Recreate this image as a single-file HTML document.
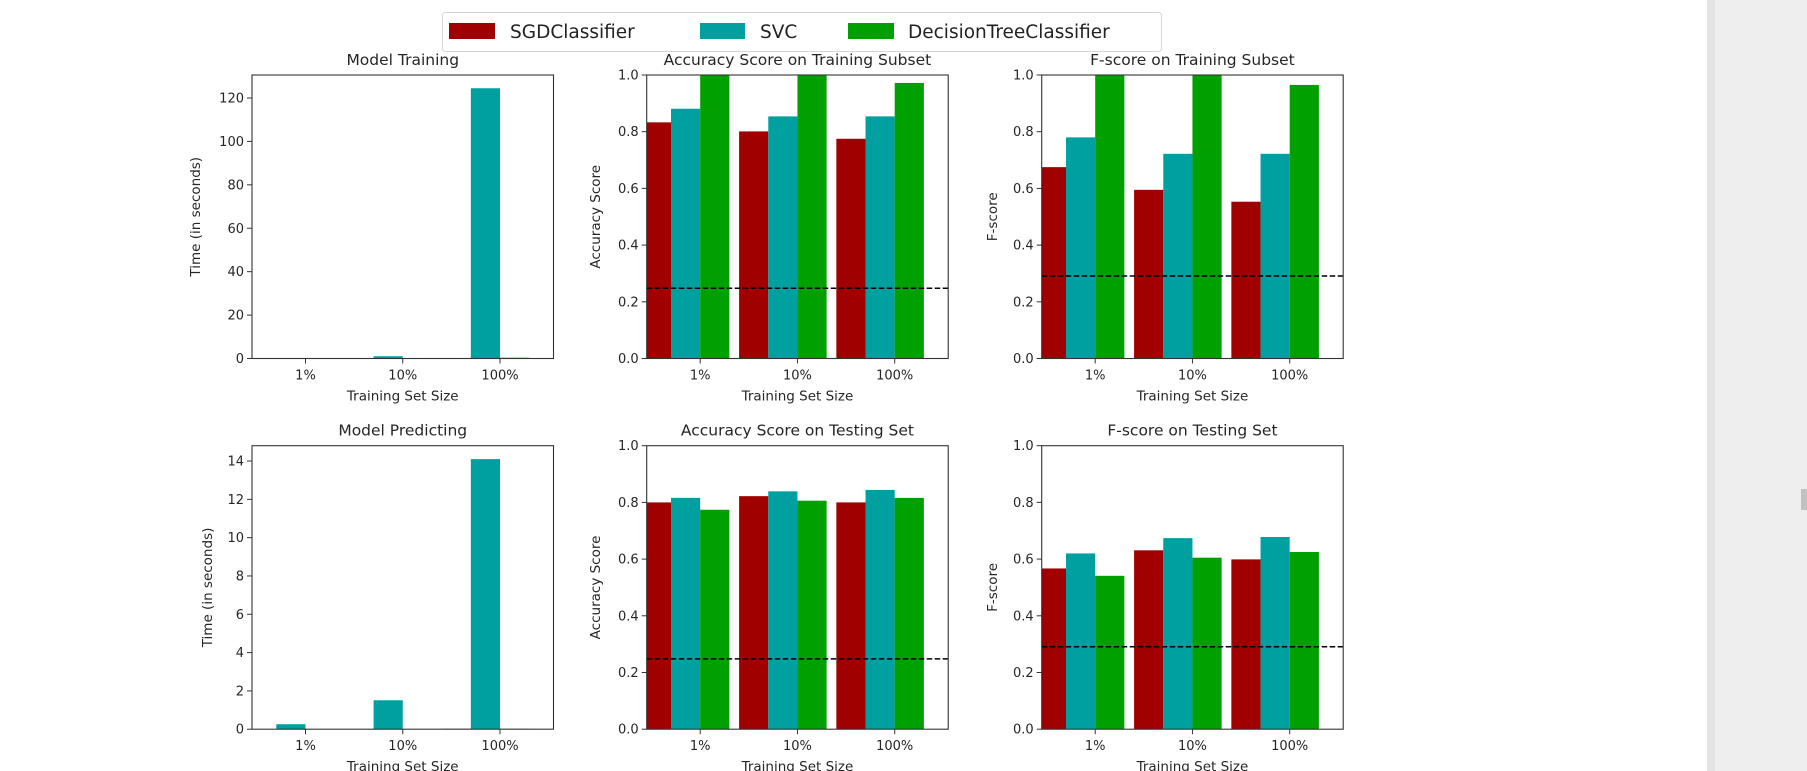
<!DOCTYPE html>
<html><head><meta charset="utf-8">
<style>
html,body{margin:0;padding:0;background:#fff;width:1807px;height:771px;overflow:hidden;}
svg{display:block;font-family:"DejaVu Sans","Liberation Sans",sans-serif;}
</style></head>
<body>
<svg id="chart" width="1807" height="771" viewBox="0 0 1807 771" xmlns="http://www.w3.org/2000/svg">
  <rect x="1707" y="0" width="100" height="771" fill="#eeeeee"/>
  <rect x="1707" y="0" width="8" height="771" fill="#e4e4e4"/>
  <rect x="1801" y="489" width="6" height="21" fill="#c1c1c1"/>
  <g id="legend">
    <rect x="442.5" y="12.5" width="719" height="39" rx="3" fill="#fff" stroke="#d6d6d6"/>
    <g>
      <rect x="449" y="23" width="46" height="16" fill="#A00000"/>
      <text x="510" y="38" font-size="18.5" fill="#222">SGDClassifier</text>
    </g>
    <g>
      <rect x="700" y="23" width="45" height="16" fill="#00A0A0"/>
      <text x="760" y="38" font-size="18.5" fill="#222">SVC</text>
    </g>
    <g>
      <rect x="848" y="23" width="46" height="16" fill="#00A000"/>
      <text x="908" y="38" font-size="18.5" fill="#222">DecisionTreeClassifier</text>
    </g>
  </g>
</svg>
<script>
const categories = ["1%", "10%", "100%"];
const seriesNames = ["SGDClassifier", "SVC", "DecisionTreeClassifier"];
const seriesColors = ["#A00000", "#00A0A0", "#00A000"];
const trainTimeSGD = [0.005, 0.02, 0.15];
const trainTimeSVC = [0.02, 1.05, 124.5];
const trainTimeDTC = [0.003, 0.03, 0.35];
const accTrainSGD = [0.833, 0.801, 0.775];
const accTrainSVC = [0.881, 0.854, 0.854];
const accTrainDTC = [1.0, 1.0, 0.972];
const fTrainSGD = [0.675, 0.595, 0.553];
const fTrainSVC = [0.780, 0.722, 0.722];
const fTrainDTC = [1.0, 1.0, 0.965];
const predTimeSGD = [0.003, 0.005, 0.02];
const predTimeSVC = [0.26, 1.51, 14.1];
const predTimeDTC = [0.002, 0.004, 0.02];
const accTestSGD = [0.800, 0.822, 0.800];
const accTestSVC = [0.816, 0.839, 0.844];
const accTestDTC = [0.774, 0.806, 0.816];
const fTestSGD = [0.567, 0.631, 0.599];
const fTestSVC = [0.620, 0.674, 0.678];
const fTestDTC = [0.541, 0.605, 0.625];
const accBaseline = [0.248];
const fBaseline = [0.291];
const timeTrainTicks = [0, 20, 40, 60, 80, 100, 120];
const timePredTicks = [0, 2, 4, 6, 8, 10, 12, 14];
const scoreTicks = [0.0, 0.2, 0.4, 0.6, 0.8, 1.0];
const scoreTickLabels = ["0.0", "0.2", "0.4", "0.6", "0.8", "1.0"];

const NS = "http://www.w3.org/2000/svg";
const svg = document.getElementById("chart");
function mk(tag, attrs, parent){const e=document.createElementNS(NS,tag);for(const k in attrs)e.setAttribute(k,attrs[k]);(parent||svg).appendChild(e);return e;}

const panels = [
  {name:"model-training", title:"Model Training", ylabel:"Time (in seconds)", x:252, y:75, ymax:130.6, ticks:timeTrainTicks, tl:timeTrainTicks.map(String), s:[trainTimeSGD,trainTimeSVC,trainTimeDTC], base:null, ylx:195},
  {name:"accuracy-training", title:"Accuracy Score on Training Subset", ylabel:"Accuracy Score", x:646.7, y:75, ymax:1, ticks:scoreTicks, tl:scoreTickLabels, s:[accTrainSGD,accTrainSVC,accTrainDTC], base:accBaseline[0], ylx:595},
  {name:"fscore-training", title:"F-score on Training Subset", ylabel:"F-score", x:1041.7, y:75, ymax:1, ticks:scoreTicks, tl:scoreTickLabels, s:[fTrainSGD,fTrainSVC,fTrainDTC], base:fBaseline[0], ylx:992},
  {name:"model-predicting", title:"Model Predicting", ylabel:"Time (in seconds)", x:252, y:445.7, ymax:14.8, ticks:timePredTicks, tl:timePredTicks.map(String), s:[predTimeSGD,predTimeSVC,predTimeDTC], base:null, ylx:207},
  {name:"accuracy-testing", title:"Accuracy Score on Testing Set", ylabel:"Accuracy Score", x:646.7, y:445.7, ymax:1, ticks:scoreTicks, tl:scoreTickLabels, s:[accTestSGD,accTestSVC,accTestDTC], base:accBaseline[0], ylx:595},
  {name:"fscore-testing", title:"F-score on Testing Set", ylabel:"F-score", x:1041.7, y:445.7, ymax:1, ticks:scoreTicks, tl:scoreTickLabels, s:[fTestSGD,fTestSVC,fTestDTC], base:fBaseline[0], ylx:992}
];
const W = 301.5, H = 283.5, XMIN = -0.1, XMAX = 3.0, BW = 0.3;
const seriesKeys = ["sgd","svc","dtc"];

panels.forEach(p => {
  const g = mk("g", {});
  
  
  const xs = v => p.x + (v - XMIN) / (XMAX - XMIN) * W;
  const ys = v => p.y + H - v / p.ymax * H;
  const clipId = "clip-" + p.name;
  const cp = mk("clipPath", {id: clipId}, g);
  mk("rect", {x:p.x, y:p.y, width:W, height:H}, cp);
  const bars = mk("g", {"clip-path":"url(#"+clipId+")"}, g);
  
  
  p.s.forEach((vals, j) => {
    vals.forEach((v, k) => {
      const c = k + j * BW;
      const x0 = xs(c - BW/2), x1 = xs(c + BW/2);
      const r = mk("rect", {x:x0, y:ys(v), width:x1-x0, height:ys(0)-ys(v), fill:seriesColors[j]}, bars);
      
      
    });
  });
  if (p.base !== null) {
    const l = mk("line", {x1:p.x, x2:p.x+W, y1:ys(p.base), y2:ys(p.base), stroke:"#000", "stroke-width":1.5, "stroke-dasharray":"5.5,2.5"}, g);
    
    
  }
  const fr = mk("rect", {x:p.x, y:p.y, width:W, height:H, fill:"none", stroke:"#333", "stroke-width":1.1}, g);
  
  
  p.ticks.forEach((t, i) => {
    const y = ys(t);
    mk("line", {x1:p.x-5, x2:p.x, y1:y, y2:y, stroke:"#333", "stroke-width":1}, g);
    const tx = mk("text", {x:p.x-8, y:y+4.5, "font-size":13, fill:"#262626", "text-anchor":"end"}, g);
    tx.textContent = p.tl[i];
    
    
  });
  categories.forEach((c, k) => {
    const x = xs(k + 0.45);
    mk("line", {x1:x, x2:x, y1:p.y+H, y2:p.y+H+5, stroke:"#333", "stroke-width":1}, g);
    const tx = mk("text", {x:x, y:p.y+H+21, "font-size":13, fill:"#262626", "text-anchor":"middle"}, g);
    tx.textContent = c;
    
    
  });
  const xl = mk("text", {x:p.x+W/2, y:p.y+H+42, "font-size":13.5, fill:"#262626", "text-anchor":"middle"}, g);
  xl.textContent = "Training Set Size";
  
  
  const yl = mk("text", {x:0, y:0, "font-size":13.5, fill:"#262626", "text-anchor":"middle", transform:"translate("+(p.ylx+5)+","+(p.y+H/2)+") rotate(-90)"}, g);
  yl.textContent = p.ylabel;
  
  
  const tt = mk("text", {x:p.x+W/2, y:p.y-10, "font-size":15.5, fill:"#262626", "text-anchor":"middle"}, g);
  tt.textContent = p.title;
  
  
});
</script>
</body></html>
